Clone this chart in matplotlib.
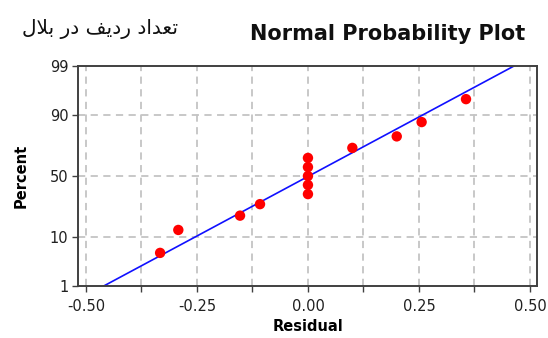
import matplotlib
matplotlib.use('Agg')
import matplotlib.pyplot as plt
import numpy as np
from statistics import NormalDist

# residuals, sorted, and the percent (median rank)
residuals = [-0.333, -0.292, -0.153, -0.108, 0.0, 0.0, 0.0, 0.0, 0.0,
             0.100, 0.200, 0.256, 0.356]
percents = [5.2, 12.7, 20.1, 27.6, 35.1, 42.5, 50.0, 57.5, 64.9,
            72.4, 79.9, 87.3, 94.8]

y_ticks = [1, 10, 50, 90, 99]
x_major = [-0.50, -0.25, 0.00, 0.25, 0.50]
x_minor = [-0.375, -0.125, 0.125, 0.375]

title = 'Normal Probability Plot'
caption = 'تعداد ردیف در بلال'

# matplotlib does no Arabic shaping, so pick the joined forms by hand
FORMS = {  # isolated, final, initial, medial
    'ت': (0xFE95, 0xFE96, 0xFE97, 0xFE98),
    'ع': (0xFEC9, 0xFECA, 0xFECB, 0xFECC),
    'د': (0xFEA9, 0xFEAA, None, None),
    'ا': (0xFE8D, 0xFE8E, None, None),
    'ر': (0xFEAD, 0xFEAE, None, None),
    'ی': (0xFBFC, 0xFBFD, 0xFEF3, 0xFEF4),
    'ف': (0xFED1, 0xFED2, 0xFED3, 0xFED4),
    'ب': (0xFE8F, 0xFE90, 0xFE91, 0xFE92),
    'ل': (0xFEDD, 0xFEDE, 0xFEDF, 0xFEE0),
}


def shape(text):
    out = []
    chars = list(text)
    i = 0
    while i < len(chars):
        c = chars[i]
        if c not in FORMS:
            out.append(c)
            i += 1
            continue
        prev = chars[i - 1] if i > 0 else None
        joins_prev = prev in FORMS and FORMS[prev][2] is not None
        # lam + alef ligature
        if c == 'ل' and i + 1 < len(chars) and chars[i + 1] == 'ا':
            out.append(chr(0xFEFC if joins_prev else 0xFEFB))
            i += 2
            continue
        nxt = chars[i + 1] if i + 1 < len(chars) else None
        joins_next = FORMS[c][2] is not None and nxt in FORMS
        iso, fin, ini, med = FORMS[c]
        if joins_prev and joins_next:
            code = med
        elif joins_prev:
            code = fin
        elif joins_next:
            code = ini
        else:
            code = iso
        out.append(chr(code))
        i += 1
    return ''.join(out)[::-1]


nd = NormalDist()
z = [nd.inv_cdf(p / 100) for p in percents]

mu = np.mean(residuals)
sigma = np.std(residuals, ddof=1)
z_lo, z_hi = nd.inv_cdf(0.01), nd.inv_cdf(0.99)

fig = plt.figure(figsize=(5.48, 3.38), dpi=100)
ax = fig.add_axes([0.1423, 0.1538, 0.8377, 0.6509])

for x in x_major + x_minor:
    ax.axvline(x, color='#c4c4c4', lw=1.3, ls=(0, (4, 3)), zorder=0)
for t in [10, 50, 90]:
    ax.axhline(nd.inv_cdf(t / 100), color='#c4c4c4', lw=1.3, ls=(0, (4, 3)), zorder=0)

ax.plot([mu + sigma * z_lo, mu + sigma * z_hi], [z_lo, z_hi], color='#1010ff', lw=1.2, zorder=2)
ax.scatter(residuals, z, s=56, color='#ff0000', edgecolors='none', zorder=3)

ax.set_xlim(-0.518, 0.516)
ax.set_ylim(z_lo, z_hi)
ax.set_yticks([nd.inv_cdf(t / 100) for t in y_ticks])
ax.set_yticklabels([str(t) for t in y_ticks])
ax.set_xticks(x_major)
ax.set_xticklabels(['%.2f' % v for v in x_major])
ax.set_xticks(x_minor, minor=True)

ax.tick_params(which='both', direction='out', length=4, width=1, color='#404040',
               labelsize=10.5, labelcolor='#202020', pad=3)
ax.tick_params(axis='x', pad=5)
for s in ax.spines.values():
    s.set_color('#404040')
    s.set_linewidth(1.4)

ax.set_xlabel('Residual', fontsize=10.5, fontweight='bold', labelpad=4)
ax.set_ylabel('Percent', fontsize=10.5, fontweight='bold', labelpad=15)

fig.text(0.958, 0.9, title, fontsize=15, fontweight='bold', ha='right', va='center', color='#101010')
fig.text(0.04, 0.915, shape(caption), fontsize=14.5, family=['DejaVu Sans'], ha='left', va='center', color='#101010')

fig.savefig('out.png', dpi=100)
